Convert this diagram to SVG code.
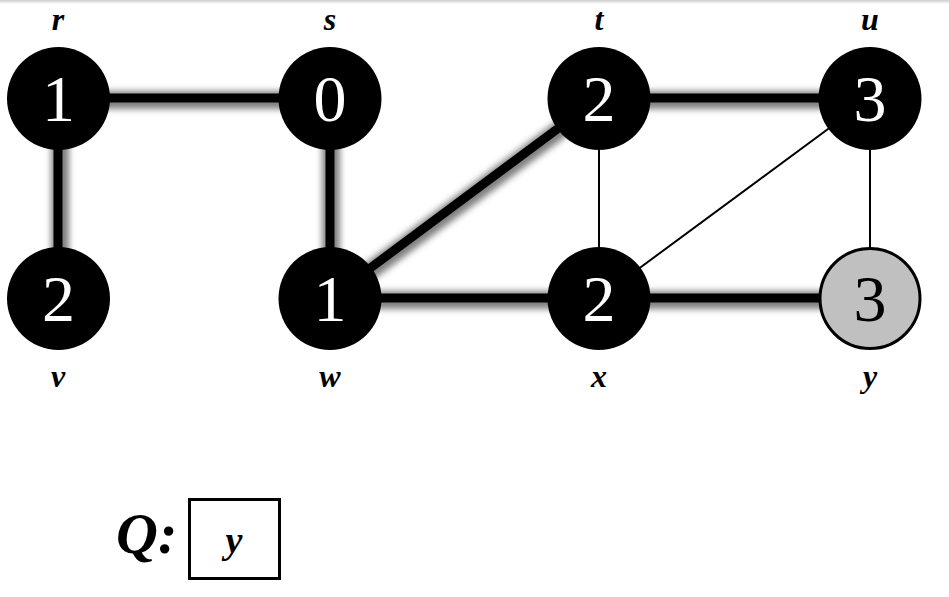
<svg xmlns="http://www.w3.org/2000/svg" width="949" height="597" viewBox="0 0 949 597">
<defs>
<filter id="blur" filterUnits="userSpaceOnUse" x="0" y="0" width="949" height="597">
<feGaussianBlur stdDeviation="3"/>
</filter>
<linearGradient id="topg" x1="0" y1="0" x2="0" y2="1">
<stop offset="0" stop-color="#cccccc"/>
<stop offset="1" stop-color="#ffffff"/>
</linearGradient>
</defs>
<style>
.sh{stroke:#808080;stroke-width:18;fill:none}
.thick{stroke:#000;stroke-width:9;fill:none}
.thin{stroke:#000;stroke-width:2;fill:none}
.node{fill:#000}
.num{font-family:"Liberation Serif",serif;font-size:66px;fill:#fff;text-anchor:middle}
.lbl{font-family:"Liberation Serif",serif;font-size:32px;font-weight:bold;font-style:italic;fill:#000;text-anchor:middle}
</style>
<rect x="0" y="0" width="949" height="4" fill="url(#topg)"/>
<g id="connectors">
<g id="shadows" filter="url(#blur)">
<line class="sh" x1="60" y1="100" x2="331" y2="100"/>
<line class="sh" x1="60" y1="100" x2="60" y2="300"/>
<line class="sh" x1="331" y1="100" x2="331" y2="300"/>
<line class="sh" x1="331" y1="300" x2="600" y2="100"/>
<line class="sh" x1="600" y1="100" x2="871" y2="100"/>
<line class="sh" x1="331" y1="300" x2="600" y2="300"/>
<line class="sh" x1="600" y1="300" x2="871" y2="300"/>
</g>
<line class="thick" x1="58" y1="98" x2="330" y2="98"/>
<line class="thick" x1="58" y1="98" x2="58" y2="298"/>
<line class="thick" x1="330" y1="98" x2="330" y2="298"/>
<line class="thick" x1="330" y1="298" x2="599" y2="98"/>
<line class="thick" x1="599" y1="98" x2="870" y2="98"/>
<line class="thick" x1="330" y1="298" x2="599" y2="298"/>
<line class="thick" x1="599" y1="298" x2="870" y2="298"/>
<line class="thin" x1="599" y1="98" x2="599" y2="298"/>
<line class="thin" x1="599" y1="298" x2="870" y2="98"/>
<line class="thin" x1="870" y1="98" x2="870" y2="298"/>
</g>
<g id="node-r"><circle class="node" cx="58.5" cy="98.5" r="51.5"/><text class="num" x="58.5" y="121">1</text><text class="lbl" x="58" y="30">r</text></g>
<g id="node-s"><circle class="node" cx="330" cy="98.5" r="51.5"/><text class="num" x="330" y="121">0</text><text class="lbl" x="330" y="30">s</text></g>
<g id="node-t"><circle class="node" cx="599" cy="98.5" r="51.5"/><text class="num" x="599" y="121">2</text><text class="lbl" x="599" y="30">t</text></g>
<g id="node-u"><circle class="node" cx="870" cy="98.5" r="51.5"/><text class="num" x="870" y="121">3</text><text class="lbl" x="870" y="30">u</text></g>
<g id="node-v"><circle class="node" cx="58.5" cy="298.5" r="51.5"/><text class="num" x="58.5" y="321">2</text><text class="lbl" x="58" y="387">v</text></g>
<g id="node-w"><circle class="node" cx="330" cy="298.5" r="51.5"/><text class="num" x="330" y="321">1</text><text class="lbl" x="330" y="387">w</text></g>
<g id="node-x"><circle class="node" cx="599" cy="298.5" r="51.5"/><text class="num" x="599" y="321">2</text><text class="lbl" x="599" y="387">x</text></g>
<g id="node-y"><circle cx="870" cy="298.5" r="50" fill="#c0c0c0" stroke="#000" stroke-width="3"/><text class="num" x="870" y="321" style="fill:#000">3</text><text class="lbl" x="870" y="387">y</text></g>
<g id="queue">
<text x="116" y="553" font-family="Liberation Serif,serif" font-size="58" font-weight="bold" font-style="italic">Q:</text>
<rect x="189.5" y="499.5" width="90" height="79" fill="none" stroke="#000" stroke-width="3"/>
<text class="lbl" x="234" y="553" style="font-size:38px">y</text>
</g>
</svg>
